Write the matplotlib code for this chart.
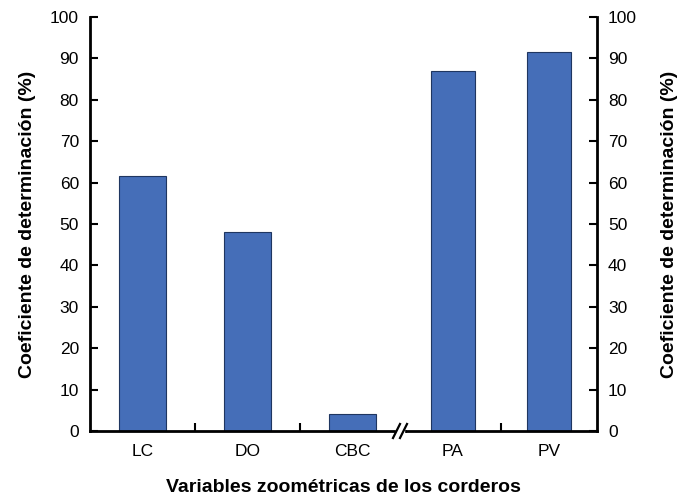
import matplotlib.pyplot as plt
from matplotlib.lines import Line2D
from matplotlib.patches import Rectangle

plt.rcParams['font.family'] = ['Liberation Sans', 'DejaVu Sans']

left_cats = ["LC", "DO", "CBC"]
left_vals = [61.5, 48.0, 4.0]
right_cats = ["PA", "PV"]
right_vals = [87.0, 91.5]
yticks = [0, 10, 20, 30, 40, 50, 60, 70, 80, 90, 100]

bar_color = "#456EB8"
edge_color = "#1F3660"

fig = plt.figure(figsize=(6.8, 5.0), dpi=100)
x0, x1, xs = 90 / 680, 597 / 680, 405 / 680
y0, y1 = 1 - 431 / 500, 1 - 17 / 500
ax1 = fig.add_axes([x0, y0, xs - x0, y1 - y0])
ax2 = fig.add_axes([xs, y0, x1 - xs, y1 - y0])

for ax, cats, vals in [(ax1, left_cats, left_vals), (ax2, right_cats, right_vals)]:
    pos = list(range(len(cats)))
    ax.bar(pos, vals, width=0.45, color=bar_color, edgecolor=edge_color, linewidth=0.8)
    ax.set_xlim(-0.5, len(cats) - 0.5)
    ax.set_ylim(0, 100)
    ax.set_yticks(yticks)
    ax.set_xticks(pos)
    ax.set_xticklabels(cats, fontsize=12.5)
    ax.set_xticks([p + 0.5 for p in pos[:-1]], minor=True)
    ax.tick_params(axis="x", which="major", length=0, pad=9)
    ax.tick_params(axis="x", which="minor", direction="in", length=6, width=1.5)
    ax.spines["top"].set_visible(False)
    ax.spines["bottom"].set_linewidth(2)
    ax.patch.set_alpha(0)

ax1.spines["right"].set_visible(False)
ax1.spines["left"].set_linewidth(2)
ax1.tick_params(axis="y", direction="in", length=6, width=1.5, labelsize=12.5, pad=8)
ax1.set_ylabel("Coeficiente de determinación (%)", fontsize=14, fontweight="bold", labelpad=10)

ax2.spines["left"].set_visible(False)
ax2.spines["right"].set_linewidth(2)
ax2.yaxis.tick_right()
ax2.yaxis.set_label_position("right")
ax2.tick_params(axis="y", direction="in", length=6, width=1.5, labelsize=12.5, pad=8,
                left=False, right=True)
ax2.set_ylabel("Coeficiente de determinación (%)", fontsize=14, fontweight="bold",
               labelpad=17, rotation=90)

fig.text((x0 + x1) / 2, 0.008, "Variables zoométricas de los corderos",
         ha="center", va="bottom", fontsize=14, fontweight="bold")

# axis break marks
bx, by = 400 / 680, y0
fig.add_artist(Rectangle((bx - 4 / 680, by - 4 / 500), 8 / 680, 8 / 500,
                         transform=fig.transFigure, color="white", zorder=5))
for dx in (-3.5, 3.5):
    cx = bx + dx / 680
    fig.add_artist(Line2D([cx - 3.5 / 680, cx + 3.5 / 680], [by - 7 / 500, by + 7 / 500],
                          transform=fig.transFigure, color="black", lw=1.6, zorder=6))

fig.savefig("out.png", dpi=100)
